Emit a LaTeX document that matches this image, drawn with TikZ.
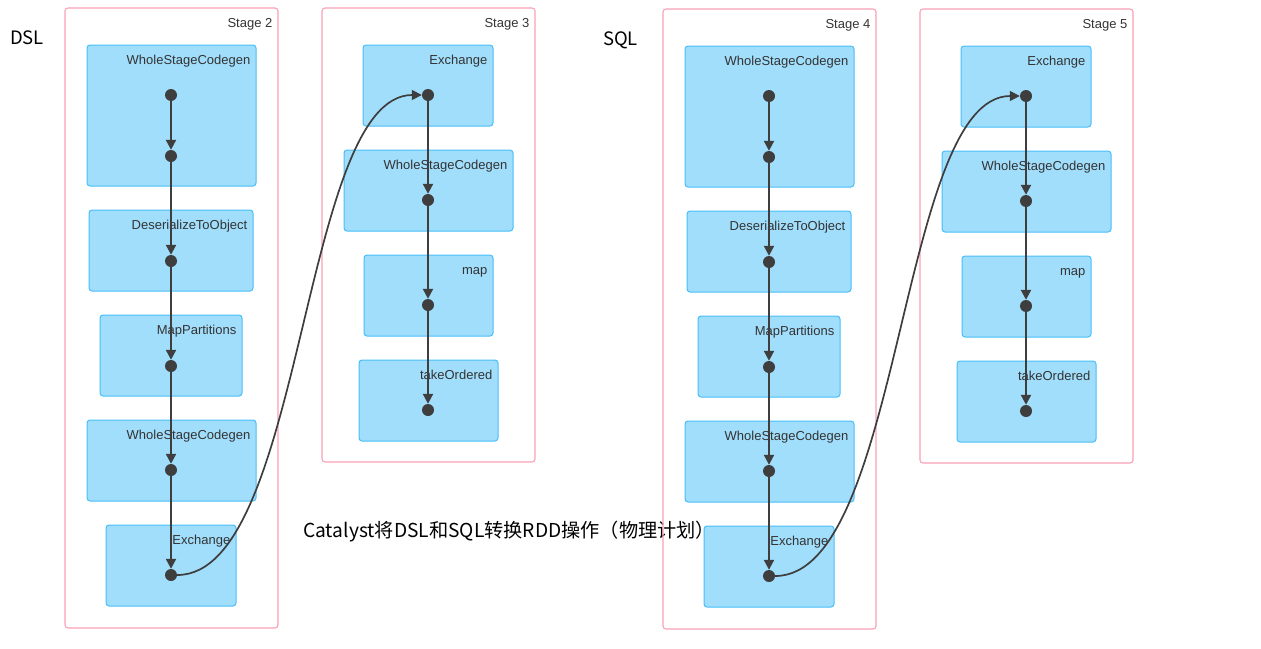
\documentclass[tikz,border=0pt]{standalone}
\usepackage{fontspec}
\setmainfont{Liberation Sans}
\newfontfamily\cjk{Noto Sans CJK SC}
\usepackage{tikz}
\usetikzlibrary{arrows.meta,positioning}
\definecolor{stageline}{RGB}{250,160,180}
\definecolor{opfill}{RGB}{161,222,252}
\definecolor{opline}{RGB}{72,190,248}
\definecolor{edgecol}{RGB}{62,62,62}
\definecolor{lbltext}{RGB}{51,51,51}
\tikzset{font=\fontsize{13}{15}\selectfont}
\tikzset{
  stage/.style={draw=stageline, rounded corners=3pt, line width=1.1pt},
  opbox/.style={draw=opline, fill=opfill, rounded corners=3pt, line width=1pt},
  oplbl/.style={anchor=north east, text=lbltext, inner sep=0pt, text height=9pt, text depth=2.5pt, xshift=-6pt, yshift=-10.5pt},
  dot/.style={circle, fill=edgecol, inner sep=0pt, minimum size=12pt},
  flow/.style={draw=edgecol, line width=2.2pt, -{Triangle[length=10pt,width=10pt]}},
  title/.style={anchor=base west, inner sep=0pt, font=\cjk\fontsize{18.5}{20}\selectfont}
}

\begin{document}
\begin{tikzpicture}[x=1pt,y=-1pt]
  \useasboundingbox (0,0) rectangle (1261,648);
  \node[title] (dsl) at (10,44.5) {DSL};
  \node[title] (sql) at (603,45.5) {SQL};
  \node[title, font=\cjk\fontsize{19.2}{21}\selectfont] (note) at (303,537.5) {Catalyst将DSL和SQL转换RDD操作（物理计划）};
  \foreach \p/\dx/\dy/\sa/\sb in {dsl/0/0/2/3, sql/598/1/4/5}{
  \begin{scope}[shift={(\dx,\dy)}, name prefix=\p-]
    % the two stages
    \node[stage, minimum width=213pt, minimum height=620pt, label={[oplbl]north east:Stage \sa}] (stagea) at (171.5,318) {};
    \node[stage, minimum width=213pt, minimum height=454pt, label={[oplbl]north east:Stage \sb}] (stageb) at (428.5,235) {};
    % operators of the first stage
    \node[opbox, minimum width=169pt, minimum height=141pt, label={[oplbl]north east:WholeStageCodegen}] (wsca) at (171.5,115.5) {};
    \node[opbox, minimum width=164pt, minimum height=81pt, label={[oplbl]north east:DeserializeToObject}] (deser) at (171,250.5) {};
    \node[opbox, minimum width=142pt, minimum height=81pt, label={[oplbl]north east:MapPartitions}] (mappart) at (171,355.5) {};
    \node[opbox, minimum width=169pt, minimum height=81pt, label={[oplbl]north east:WholeStageCodegen}] (wscb) at (171.5,460.5) {};
    \node[opbox, minimum width=130pt, minimum height=81pt, label={[oplbl]north east:Exchange}] (exa) at (171,565.5) {};
    % operators of the second stage
    \node[opbox, minimum width=130pt, minimum height=81pt, label={[oplbl]north east:Exchange}] (exb) at (428,85.5) {};
    \node[opbox, minimum width=169pt, minimum height=81pt, label={[oplbl]north east:WholeStageCodegen}] (wscc) at (428.5,190.5) {};
    \node[opbox, minimum width=129pt, minimum height=81pt, label={[oplbl]north east:map}] (map) at (428.5,295.5) {};
    \node[opbox, minimum width=139pt, minimum height=81pt, label={[oplbl]north east:takeOrdered}] (take) at (428.5,400.5) {};
    % dots
    \node[dot] (d1) at (171,95) {};
    \node[dot] (d2) at (171,156) {};
    \node[dot] (d3) at (171,261) {};
    \node[dot] (d4) at (171,366) {};
    \node[dot] (d5) at (171,470) {};
    \node[dot] (d6) at (171,575) {};
    \node[dot] (e1) at (428,95) {};
    \node[dot] (e2) at (428,200) {};
    \node[dot] (e3) at (428,305) {};
    \node[dot] (e4) at (428,410) {};
    \foreach \a/\b in {d1/d2, d2/d3, d3/d4, d4/d5, d5/d6, e1/e2, e2/e3, e3/e4}
      \draw[flow] (\a) -- (\b);
    \draw[flow, line width=1.7pt] (d6) to[out=0, in=180, looseness=0.6] (e1);
  \end{scope}
  }
\end{tikzpicture}
\end{document}
